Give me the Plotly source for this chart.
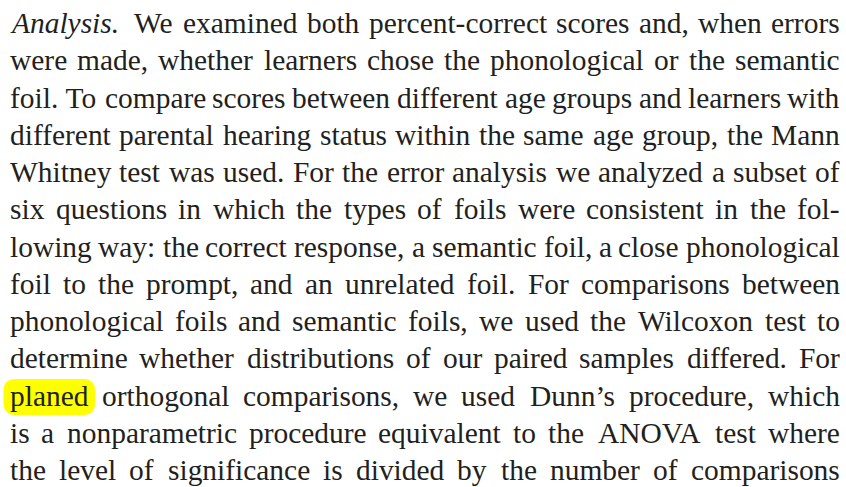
import plotly.graph_objects as go

# ---- content -------------------------------------------------------------
text_lines = [
    "Analysis. We examined both percent-correct scores and, when errors",
    "were made, whether learners chose the phonological or the semantic",
    "foil.\u00a0To compare scores between different age groups and learners with",
    "different parental hearing status within the same age group, the Mann",
    "Whitney test was used. For the error analysis we analyzed a subset of",
    "six questions in which the types of foils were consistent in the fol-",
    "lowing way: the correct response, a semantic foil, a close phonological",
    "foil to the prompt, and an unrelated foil. For comparisons between",
    "phonological foils and semantic foils, we used the Wilcoxon test to",
    "determine whether distributions of our paired samples differed. For",
    "planed orthogonal comparisons, we used Dunn\u2019s procedure, which",
    "is a nonparametric procedure equivalent to the ANOVA test where",
    "the level of significance is divided by the number of comparisons",
]
italic_words = ["Analysis."]
highlighted_word = "planed"

# ---- approximate glyph widths (Times / Liberation Serif, 1/1000 em) -------
ROMAN = {
    ' ': 250, '\u00a0': 250, ',': 250, '.': 250, ':': 278, ';': 278, '-': 333,
    "'": 333, '\u2019': 333, '(': 333, ')': 333,
    'A': 722, 'B': 667, 'C': 667, 'D': 722, 'E': 611, 'F': 556, 'G': 722,
    'H': 722, 'I': 333, 'J': 389, 'K': 722, 'L': 611, 'M': 889, 'N': 722,
    'O': 722, 'P': 556, 'Q': 722, 'R': 667, 'S': 556, 'T': 611, 'U': 722,
    'V': 722, 'W': 944, 'X': 722, 'Y': 722, 'Z': 611,
    'a': 444, 'b': 500, 'c': 444, 'd': 500, 'e': 444, 'f': 333, 'g': 500,
    'h': 500, 'i': 278, 'j': 278, 'k': 500, 'l': 278, 'm': 778, 'n': 500,
    'o': 500, 'p': 500, 'q': 500, 'r': 333, 's': 389, 't': 278, 'u': 500,
    'v': 500, 'w': 722, 'x': 500, 'y': 500, 'z': 444,
}
ITALIC = dict(ROMAN)
ITALIC.update({'A': 611, 'a': 500, 'y': 444})


def em_width(word, italic=False):
    tbl = ITALIC if italic else ROMAN
    return sum(tbl.get(c, 500) for c in word) / 1000.0


# ---- layout constants ----------------------------------------------------
W_PX, H_PX = 846, 487
LEFT, RIGHT = 9.5, 840.0
FIRST_BASE, LINE_STEP = 33.0, 37.25
MIN_GAP = 0.22
EXTRA_AFTER_ITALIC = 0.25
TEXT_COLOR = "#231f20"
FONT = "Liberation Serif, Times New Roman, serif"

words_per_line = [ln.split(" ") for ln in text_lines]

# font size so that the densest line still fits with the minimum gap
col_w = RIGHT - LEFT
size = 100.0
for ws in words_per_line:
    natural = sum(em_width(w, w in italic_words) for w in ws)
    natural += (len(ws) - 1) * MIN_GAP
    natural += sum(EXTRA_AFTER_ITALIC for w in ws[:-1] if w in italic_words)
    size = min(size, col_w / natural)

fig = go.Figure()
fig.add_trace(go.Scatter(x=[0, W_PX], y=[0, H_PX], mode="markers",
                         marker=dict(opacity=0), hoverinfo="skip",
                         showlegend=False))

annotations = []
shapes = []
for li, ws in enumerate(words_per_line):
    base = FIRST_BASE + li * LINE_STEP
    ycenter = base - 0.3375 * size
    widths = [em_width(w, w in italic_words) * size for w in ws]
    extras = [EXTRA_AFTER_ITALIC * size if (w in italic_words and k < len(ws) - 1) else 0
              for k, w in enumerate(ws)]
    gap = (col_w - sum(widths) - sum(extras)) / max(len(ws) - 1, 1)
    x = LEFT
    for k, (w, wd) in enumerate(zip(ws, widths)):
        txt = f"<i>{w}</i>" if w in italic_words else w
        if k == 0:
            ax, xa = x, "left"
        elif k == len(ws) - 1:
            ax, xa = RIGHT, "right"
        else:
            ax, xa = x + wd / 2, "center"
        if w == highlighted_word:
            x0, x1 = x - 6, x + wd + 7
            y0, y1 = base - 26.5, base + 9.5
            r = 12
            path = (f"M {x0 + r},{y0} L {x1 - r},{y0} Q {x1},{y0} {x1},{y0 + r} "
                    f"L {x1},{y1 - r} Q {x1},{y1} {x1 - r},{y1} "
                    f"L {x0 + r},{y1} Q {x0},{y1} {x0},{y1 - r} "
                    f"L {x0},{y0 + r} Q {x0},{y0} {x0 + r},{y0} Z")
            shapes.append(dict(type="path", path=path, xref="x", yref="y",
                               fillcolor="#ffff00", line=dict(width=0),
                               layer="below"))
        annotations.append(dict(
            x=ax, y=ycenter, xref="x", yref="y", text=txt, showarrow=False,
            xanchor=xa, yanchor="middle", borderpad=0, borderwidth=0,
            font=dict(family=FONT, size=size, color=TEXT_COLOR)))
        x += wd + extras[k] + gap

fig.update_layout(
    width=W_PX, height=H_PX,
    margin=dict(l=0, r=0, t=0, b=0),
    paper_bgcolor="white", plot_bgcolor="white",
    xaxis=dict(range=[0, W_PX], visible=False, fixedrange=True),
    yaxis=dict(range=[H_PX, 0], visible=False, fixedrange=True),
    annotations=annotations, shapes=shapes, showlegend=False,
)

fig.write_html(
    "out.html",
    config={"displayModeBar": False},
    post_script="document.body.style.margin='0';document.body.style.padding='0';"
                "document.body.style.overflow='hidden';",
)
